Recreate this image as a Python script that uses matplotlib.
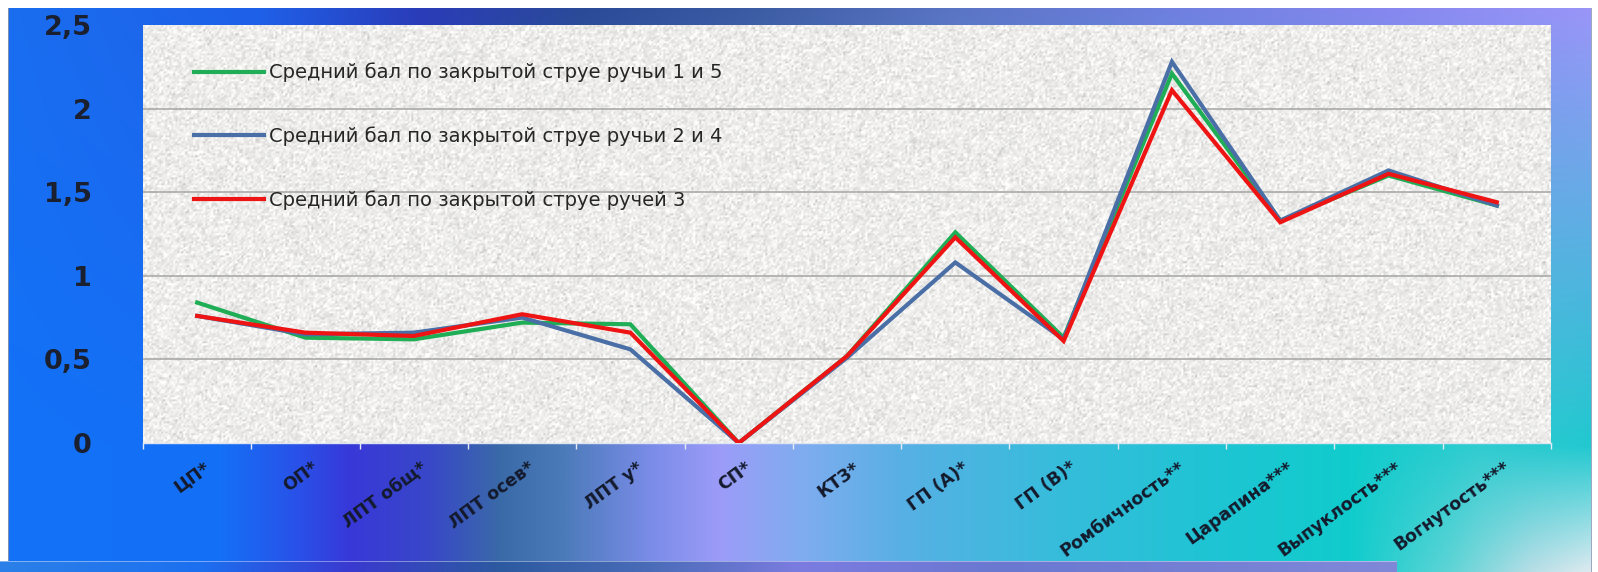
import numpy as np
import matplotlib

matplotlib.use("Agg")
import matplotlib.pyplot as plt
import matplotlib.transforms as mtransforms
from matplotlib.colors import to_rgb

# Defect categories along the x axis
categories = [
    "ЦП*", "ОП*", "ЛПТ общ*", "ЛПТ осев*", "ЛПТ у*", "СП*", "КТЗ*",
    "ГП (А)*", "ГП (В)*", "Ромбичность**", "Царапина***",
    "Выпуклость***", "Вогнутость***",
]

# Mean score per defect for each group of passes
streams_1_5 = [0.84, 0.63, 0.62, 0.72, 0.71, 0.0, 0.52, 1.26, 0.63, 2.21, 1.33, 1.60, 1.42]
streams_2_4 = [0.76, 0.65, 0.66, 0.75, 0.56, 0.0, 0.51, 1.08, 0.62, 2.28, 1.33, 1.63, 1.42]
stream_3 = [0.76, 0.66, 0.64, 0.77, 0.66, 0.0, 0.52, 1.23, 0.61, 2.11, 1.32, 1.61, 1.44]

series_labels = [
    "Средний бал по закрытой струе ручьи 1 и 5",
    "Средний бал по закрытой струе ручьи 2 и 4",
    "Средний бал по закрытой струе ручей 3",
]
series_colors = ["#1fae55", "#4a6ea6", "#ee1414"]

y_ticks = [0, 0.5, 1, 1.5, 2, 2.5]
y_tick_labels = ["0", "0,5", "1", "1,5", "2", "2,5"]

W, H = 1598, 572


def row_colors(stops, xs):
    pos = [p for p, _ in stops]
    cols = np.array([to_rgb(c) for _, c in stops])
    return np.stack([np.interp(xs, pos, cols[:, k]) for k in range(3)], axis=-1)


def slide_background():
    xs = np.arange(W)
    top = row_colors([(0, "#1a6ef0"), (260, "#1f60e8"), (420, "#2a3cb8"),
                      (580, "#2a4a98"), (760, "#3c5ca4"), (950, "#5a74c4"),
                      (1180, "#7080e0"), (1400, "#8888f0"), (W, "#9a96f8")], xs)
    mid = row_colors([(0, "#1272f8"), (220, "#1470f6"), (300, "#2a50e8"),
                      (350, "#3838d8"), (430, "#3848c8"), (500, "#3a6aa8"),
                      (560, "#4a7ab8"), (650, "#7a8ce8"), (720, "#9c9cf8"),
                      (800, "#80acf0"), (900, "#58b0e4"), (1050, "#38bcdc"),
                      (1200, "#20c4d4"), (1350, "#10cccc"), (1480, "#30ccd0"),
                      (W, "#20c8d0")], xs)
    bot = row_colors([(0, "#1272f8"), (220, "#1470f6"), (300, "#2a50e8"),
                      (350, "#3838d8"), (430, "#3848c8"), (500, "#3a6aa8"),
                      (560, "#4a7ab8"), (650, "#7a8ce8"), (720, "#9c9cf8"),
                      (800, "#80acf0"), (900, "#58b0e4"), (1050, "#38bcdc"),
                      (1200, "#20c4d4"), (1350, "#10cccc"), (1450, "#60d4d6"),
                      (1530, "#b8dee6"), (W, "#e4ecf2")], xs)
    img = np.empty((H, W, 3))
    for y in range(H):
        if y <= 445:
            t = np.clip((y - 8) / 437.0, 0, 1)
            img[y] = top * (1 - t) + mid * t
        else:
            t = (y - 445) / 127.0
            img[y] = mid * (1 - t) + bot * t
    img[:8, :] = 1.0
    img[:, :8] = 1.0
    img[:, 1592:] = 1.0
    img[8:, 8] = to_rgb("#7f90b0")
    img[8:, 1591] = to_rgb("#a0a8c0")
    # strip of the next slide element along the bottom edge
    bar = row_colors([(0, "#2c80e8"), (200, "#1c70f0"), (350, "#3a3ad0"),
                      (500, "#2c5aa0"), (650, "#4a6cb8"), (800, "#7c7ce0"),
                      (1000, "#6a78d0"), (1397, "#8088d8")], np.arange(1397))
    img[561:, :1397] = bar
    img[561, :1397] = np.clip(bar * 0.6 + 0.4, 0, 1)
    return img


fig = plt.figure(figsize=(W / 100, H / 100), dpi=100)

bg = fig.add_axes([0, 0, 1, 1], zorder=-10)
bg.imshow(slide_background(), extent=[0, W, H, 0], aspect="auto", interpolation="bilinear")
bg.set_xlim(0, W)
bg.set_ylim(H, 0)
bg.axis("off")

ax = fig.add_axes([143 / W, 1 - 443 / H, 1408 / W, 418 / H])
ax.patch.set_visible(False)

# granite-style fill of the plot area
rng = np.random.default_rng(11)
grain = rng.normal(size=(209, 704))
grain = np.kron(grain, np.ones((2, 2)))
grain = (grain + np.roll(grain, 1, 0) + np.roll(grain, 1, 1)) / 3.0
texture = np.clip(0.93 + 0.045 * grain, 0, 1)
tex_rgb = np.dstack([texture, texture * 0.998, texture * 0.99])
ax.imshow(tex_rgb, extent=[-0.5, 12.5, 0, 2.5], aspect="auto",
          interpolation="bilinear", zorder=0)

ax.hlines(y_ticks[1:-1], -0.5, 12.5, color="#a4a4a4", lw=1.1, zorder=1)

xs = np.arange(len(categories))
for vals, label, color in zip([streams_1_5, streams_2_4, stream_3], series_labels, series_colors):
    ax.plot(xs, vals, color=color, lw=3, label=label, solid_joinstyle="miter", zorder=3)

ax.set_xlim(-0.5, len(categories) - 0.5)
ax.set_ylim(0, 2.5)

ax.set_yticks(y_ticks)
ax.set_yticklabels(y_tick_labels, fontsize=19.5, fontweight="bold", color="#1a2030")
ax.tick_params(axis="y", length=0, pad=37)

ax.set_xticks(xs)
ax.set_xticklabels(categories, rotation=36, ha="right", rotation_mode="anchor",
                   fontsize=12.5, fontweight="bold", color="#141a2c")
ax.tick_params(axis="x", which="major", length=0, pad=11)
# nudge the slanted labels so their ends sit over the category centres
shift = mtransforms.ScaledTranslation(6 / 100, 0, fig.dpi_scale_trans)
for lbl in ax.get_xticklabels():
    lbl.set_transform(lbl.get_transform() + shift)
ax.set_xticks(np.arange(-0.5, len(categories)), minor=True)
ax.tick_params(axis="x", which="minor", length=4, width=1, color="#e4eaf6", direction="out")

for side in ["top", "left", "right"]:
    ax.spines[side].set_visible(False)
ax.spines["bottom"].set_color("#dde4f0")
ax.spines["bottom"].set_linewidth(1)

leg = ax.legend(loc="upper left", bbox_to_anchor=(0.036, 0.910), frameon=False,
                handlelength=3.6, handletextpad=0.25, labelspacing=2.26,
                borderpad=0, borderaxespad=0, prop={"size": 14})
for txt in leg.get_texts():
    txt.set_color("#262626")

fig.savefig("out.png", dpi=100)
